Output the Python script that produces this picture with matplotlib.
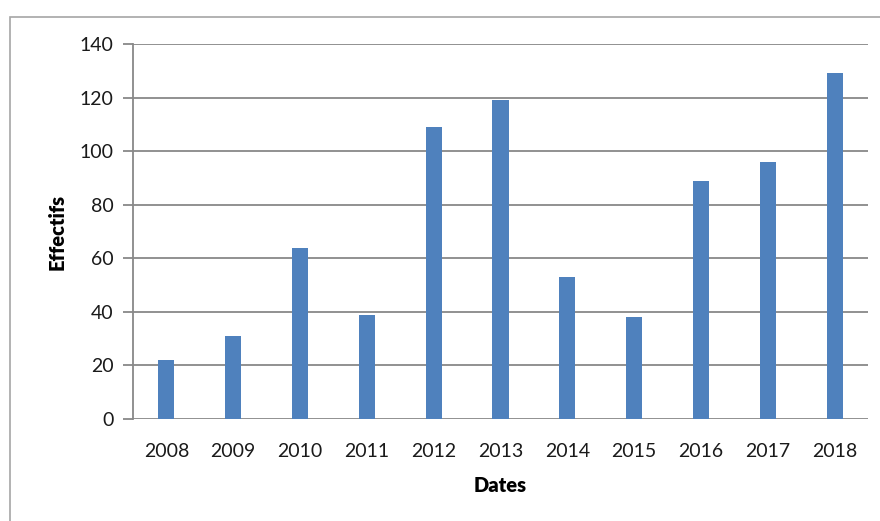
import matplotlib.pyplot as plt
from matplotlib.patches import Rectangle

years = ["2008", "2009", "2010", "2011", "2012", "2013", "2014", "2015", "2016", "2017", "2018"]
effectifs = [22, 31, 64, 39, 109, 119, 53, 38, 89, 96, 129]

plt.rcParams["font.family"] = ["Lato", "DejaVu Sans"]

fig = plt.figure(figsize=(8.8, 5.21), dpi=100)
ax = fig.add_axes([133 / 880, 1 - 419 / 521, 735 / 880, 375 / 521])

# outer chart border (cut off at right and bottom)
fig.patches.append(Rectangle((10 / 880, -0.1), 1.1, 1.1 - 17 / 521, transform=fig.transFigure,
                             fill=False, edgecolor="#a6a6a6", linewidth=1.2))

x = range(len(years))
ax.bar(x, effectifs, width=0.24, color="#4f81bd", zorder=3)

ax.set_xlim(-0.5, len(years) - 0.5)
ax.set_ylim(0, 140)
ax.set_yticks(range(0, 141, 20))
ax.set_xticks(list(x))
ax.set_xticklabels(years)
ax.grid(axis="y", color="#888888", linewidth=1.3, zorder=0)

for s in ["top", "right", "bottom"]:
    ax.spines[s].set_visible(False)
ax.spines["left"].set_color("#888888")
ax.spines["left"].set_linewidth(1.3)
ax.tick_params(axis="y", length=7, width=1.3, color="#888888", labelsize=14,
               labelcolor="#1a1a1a", pad=7)
ax.tick_params(axis="x", length=0, labelsize=14, labelcolor="#1a1a1a", pad=17)

ax.set_xlabel("Dates", fontsize=14.5, fontweight="heavy", labelpad=12)
ax.set_ylabel("Effectifs", fontsize=14.5, fontweight="heavy", labelpad=9)

fig.savefig("out.png", dpi=100)
